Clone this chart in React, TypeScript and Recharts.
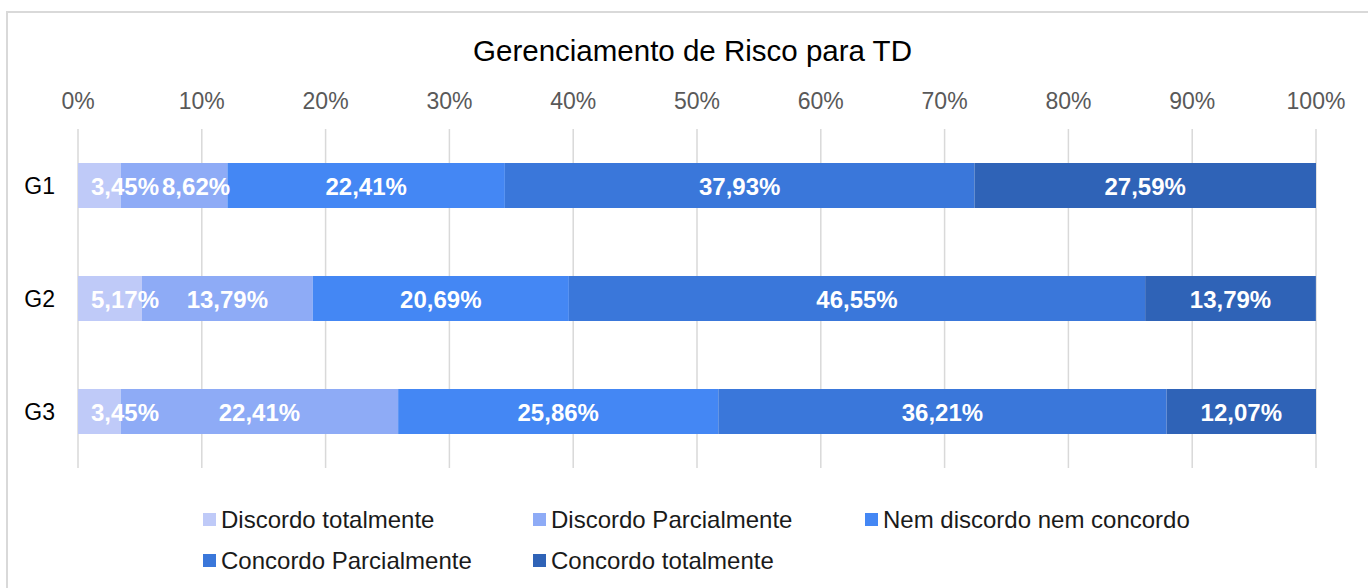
import React from "react";
import { BarChart, Bar, XAxis, YAxis, CartesianGrid, LabelList } from "recharts";

const categories = ["G1", "G2", "G3"];
const discordoTotalmente = [3.45, 5.17, 3.45];
const discordoParcialmente = [8.62, 13.79, 22.41];
const nemDiscordoNemConcordo = [22.41, 20.69, 25.86];
const concordoParcialmente = [37.93, 46.55, 36.21];
const concordoTotalmente = [27.59, 13.79, 12.07];
const xTicks = [0, 10, 20, 30, 40, 50, 60, 70, 80, 90, 100];

const seriesNames = [
  "Discordo totalmente",
  "Discordo Parcialmente",
  "Nem discordo nem concordo",
  "Concordo Parcialmente",
  "Concordo totalmente",
];
const seriesValues = [
  discordoTotalmente,
  discordoParcialmente,
  nemDiscordoNemConcordo,
  concordoParcialmente,
  concordoTotalmente,
];
const seriesColors = ["#bfcaf8", "#8eabf6", "#4487f4", "#3a77da", "#2f63b7"];
const keys = ["s0", "s1", "s2", "s3", "s4"];

const data = categories.map((name, i) => {
  const row: any = { name };
  seriesValues.forEach((vals, s) => {
    row[keys[s]] = vals[i];
  });
  return row;
});

const FONT = "'Liberation Sans', Arial, sans-serif";
const LABEL_SIZE = 24;

const fmt = (v: number) => v.toFixed(2).replace(".", ",") + "%";

const textWidth = (str: string) => {
  let w = 0;
  for (const ch of str) {
    if (ch === ",") w += 0.278;
    else if (ch === "%") w += 0.889;
    else w += 0.556;
  }
  return w * LABEL_SIZE;
};

function labelCenter(s: number, row: number, x: number, width: number, value: number) {
  const vals = seriesValues.map((v) => v[row]);
  const px = width / value;
  let prevSum = 0;
  for (let k = 0; k < s; k++) prevSum += vals[k];
  const rowStart = x - prevSum * px;
  let cursor = rowStart;
  let prevRight = -Infinity;
  let result = x + width / 2;
  for (let k = 0; k < vals.length; k++) {
    const segW = vals[k] * px;
    const center = cursor + segW / 2;
    const w = textWidth(fmt(vals[k]));
    const minLeft = k === 0 ? rowStart + 13 : prevRight + 3;
    const left = Math.max(center - w / 2, minLeft);
    if (k === s) result = left + w / 2;
    prevRight = left + w;
    cursor += segW;
  }
  return result;
}

const makeLabel = (s: number) => (props: any) => {
  const { x, y, width, height, value, index } = props;
  if (value == null) return null;
  const cx = labelCenter(s, index, Number(x), Number(width), Number(value));
  return (
    <text
      x={cx}
      y={Number(y) + Number(height) / 2 + 1}
      fill="#ffffff"
      fontFamily={FONT}
      fontSize={LABEL_SIZE}
      fontWeight="bold"
      textAnchor="middle"
      dominantBaseline="central"
    >
      {fmt(Number(value))}
    </text>
  );
};

const legendCols = [203, 533, 865];
const legendRows = [519.5, 560.5];

export default function App() {
  return (
    <div style={{ position: "relative", width: 1368, height: 588, overflow: "hidden", background: "#fff" }}>
      <style>{`body{margin:0;overflow:hidden;background:#fff}`}</style>
      <div
        style={{
          position: "absolute",
          left: 6,
          top: 11,
          width: 1400,
          height: 620,
          border: "2px solid #d9d9d9",
          boxSizing: "border-box",
        }}
      />
      <div style={{ position: "absolute", left: 0, top: 0 }}>
        <BarChart
          width={1368}
          height={480}
          data={data}
          layout="vertical"
          margin={{ top: 89, right: 52, bottom: 12, left: 0 }}
          barSize={45}
        >
          <CartesianGrid horizontal={false} vertical={true} stroke="#d9d9d9" strokeWidth={1.5} />
          <XAxis
            type="number"
            orientation="top"
            domain={[0, 100]}
            ticks={xTicks}
            tickFormatter={(v: number) => `${v}%`}
            axisLine={false}
            tickLine={false}
            tickSize={0}
            tickMargin={20}
            height={40}
            allowDataOverflow
            interval={0}
            tick={{ fill: "#595959", fontSize: 23, fontFamily: FONT }}
          />
          <YAxis
            type="category"
            dataKey="name"
            axisLine={false}
            tickLine={false}
            tickSize={0}
            tickMargin={23}
            width={78}
            tick={{ fill: "#000000", fontSize: 23, fontFamily: FONT }}
          />
          {keys.map((k, s) => (
            <Bar key={k} dataKey={k} stackId="a" fill={seriesColors[s]} isAnimationActive={false} name={seriesNames[s]}>
              <LabelList dataKey={k} content={makeLabel(s)} />
            </Bar>
          ))}
        </BarChart>
      </div>
      <svg
        width={1368}
        height={588}
        style={{ position: "absolute", left: 0, top: 0, pointerEvents: "none" }}
      >
        <text x={692.5} y={61} textAnchor="middle" fontFamily={FONT} fontSize={29.5} fill="#000000">
          Gerenciamento de Risco para TD
        </text>
        {seriesNames.map((n, s) => {
          const col = s % 3;
          const row = Math.floor(s / 3);
          const mx = legendCols[col];
          const my = legendRows[row];
          return (
            <g key={n}>
              <rect x={mx} y={my - 6.5} width={13} height={13} fill={seriesColors[s]} />
              <text x={mx + 18} y={my + 8.5} fontFamily={FONT} fontSize={24} fill="#1a1a1a">
                {n}
              </text>
            </g>
          );
        })}
      </svg>
    </div>
  );
}
